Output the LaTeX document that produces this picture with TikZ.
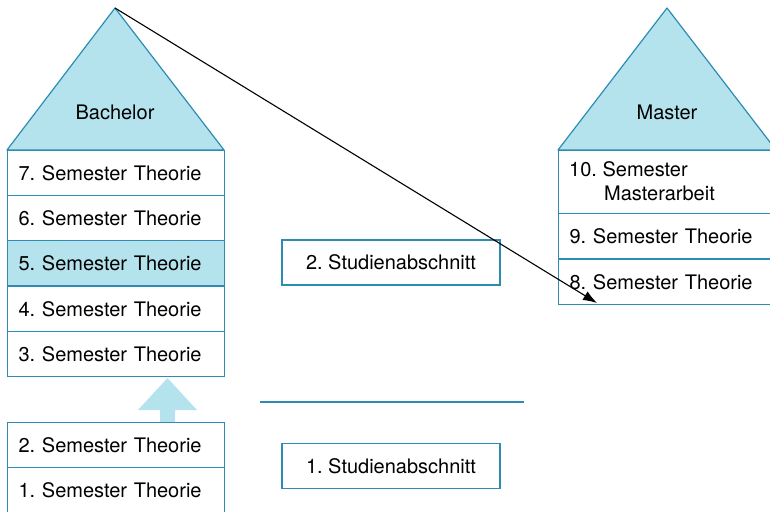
\documentclass[tikz,border=0pt]{standalone}
\usepackage{fontspec}
\setmainfont{TeX Gyre Heros}
\usetikzlibrary{arrows.meta}
\frenchspacing

\definecolor{hellblau}{RGB}{180,227,237}
\definecolor{randblau}{RGB}{45,140,180}

\tikzset{
  zeile/.style={draw=randblau, line width=1.2pt, anchor=north west,
    minimum width=217pt, minimum height=45pt, inner xsep=11pt,
    text width=195pt, align=left, font=\fontsize{20}{24}\selectfont},
  abschnitt/.style={draw=randblau, line width=1.2pt, minimum width=218pt,
    minimum height=45pt, font=\fontsize{20}{24}\selectfont},
  dach/.style={fill=hellblau, draw=randblau, line width=1.2pt, line join=round},
}

\begin{document}
\begin{tikzpicture}[x=1pt, y=-1pt]
\useasboundingbox (0,0) rectangle (770,511);

% Bachelor
\draw[dach] (7,150) -- (115,8) -- (224,150) -- cycle;
\coordinate (bspitze) at (115,8);
\node[font=\fontsize{20}{24}\selectfont] (bachelor) at (115,112) {Bachelor};
\node[zeile] (s7) at (7,150) {7. Semester Theorie};
\node[zeile] (s6) at (7,195) {6. Semester Theorie};
\node[zeile, fill=hellblau] (s5) at (7,240) {5. Semester Theorie};
\node[zeile] (s4) at (7,286) {4. Semester Theorie};
\node[zeile] (s3) at (7,331) {3. Semester Theorie};

% Pfeil nach oben
\fill[hellblau] (138,410) -- (167.5,378) -- (197,410) -- (175,410)
  -- (175,422) -- (160,422) -- (160,410) -- cycle;

\node[zeile] (s2) at (7,422) {2. Semester Theorie};
\node[zeile] (s1) at (7,467) {1. Semester Theorie};

% Studienabschnitte
\node[abschnitt] (ab2) at (391,262.5) {2. Studienabschnitt};
\draw[randblau, line width=1.2pt] (260,402) -- (524,402);
\node[abschnitt] (ab1) at (391,466) {1. Studienabschnitt};

% Master
\draw[dach] (558,150) -- (667,8) -- (776,150) -- cycle;
\node[font=\fontsize{20}{24}\selectfont] (master) at (667,112) {Master};
\node[zeile, minimum height=63pt] (s10) at (558,150) {};
\node[anchor=west, inner sep=0pt, font=\fontsize{20}{24}\selectfont] (s10a) at (569,169) {10. Semester};
\node[anchor=west, inner sep=0pt, font=\fontsize{20}{24}\selectfont] (s10b) at (604,193) {Masterarbeit};
\node[zeile] (s9) at (558,213) {9. Semester Theorie};
\node[zeile] (s8) at (558,259) {8. Semester Theorie};

% Pfeil
\coordinate (ende) at (597,303);
\draw[line width=1.1pt, -{Latex[length=14pt, width=10pt]}] (bspitze) -- (ende);

\end{tikzpicture}
\end{document}
